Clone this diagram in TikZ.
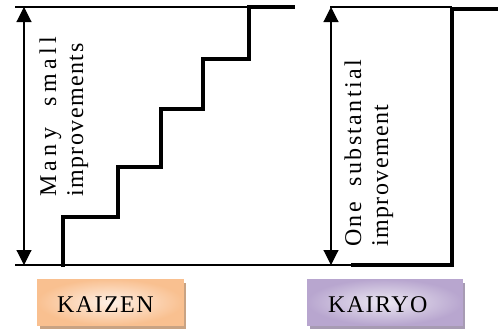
\documentclass[tikz,border=0pt]{standalone}
\usepackage{fontspec}
\setmainfont{Liberation Serif}
\newfontfamily\spacedfont[LetterSpace=6]{Liberation Serif}
\newfontfamily\widefont[LetterSpace=18]{Liberation Serif}
\newfontfamily\midfont[LetterSpace=10]{Liberation Serif}
\usetikzlibrary{arrows.meta}
\definecolor{kzdark}{HTML}{F9C090}
\definecolor{kzlight}{HTML}{FEF0E6}
\definecolor{kzshadow}{HTML}{C9A383}
\definecolor{kydark}{HTML}{B8A6CF}
\definecolor{kylight}{HTML}{ECE8F2}
\definecolor{kyshadow}{HTML}{A79BB3}
\tikzset{
  thinline/.style={line width=1.1pt, black},
  thickline/.style={line width=3.4pt, black, line cap=rect},
  dimarrow/.style={line width=1.1pt, {Triangle[width=15pt,length=15pt]}-{Triangle[width=15pt,length=15pt]}},
  vlabel/.style={rotate=90, anchor=base west, inner sep=0pt, font=\spacedfont\fontsize{24}{28}\selectfont},
  hlabel/.style={anchor=base west, inner sep=0pt, font=\spacedfont\fontsize{24}{28}\selectfont},
  tagbox/.style={draw, line width=0.8pt, minimum width=146pt, minimum height=46pt, inner sep=0pt},
}
\begin{document}
\begin{tikzpicture}[x=1pt,y=-1pt]
\useasboundingbox (0,0) rectangle (498,330);
% reference coordinates
\coordinate (tl1) at (15,7);
\coordinate (tl2) at (249,7);
\coordinate (bl1) at (15,265);
\coordinate (bl2) at (353,265);
\coordinate (tr1) at (330,7);
\coordinate (tr2) at (452,7);
\coordinate (aLt) at (24,7);
\coordinate (aLb) at (24,265);
\coordinate (aRt) at (331,7);
\coordinate (aRb) at (331,265);
% thin lines
\draw[thinline] (tl1) -- (tl2);
\draw[thinline] (bl1) -- (bl2);
\draw[thinline] (tr1) -- (tr2);
% dimension arrows
\draw[dimarrow] (aLt) -- (aLb);
\draw[dimarrow] (aRt) -- (aRb);
% kaizen staircase
\coordinate (s0) at (63,265);
\coordinate (s5) at (293,7);
\draw[thickline, line join=miter] (s0) -- (63,217) -- (118,217) -- (118,167) -- (161,167)
  -- (161,109) -- (203,109) -- (203,59) -- (249,59) -- (249,7) -- (s5);
% kairyo step
\coordinate (k0) at (353,265);
\coordinate (k1) at (498,9);
\draw[thickline, line join=miter] (k0) -- (452,265) -- (452,9) -- (k1);
% vertical labels
\node[vlabel] (many) at (56,197) {\widefont\fontsize{24}{28}\selectfont\makebox[160pt][s]{Many small}};
\node[vlabel] (impr1) at (83,197) {improvements};
\node[vlabel] (one) at (361,247) {\midfont\fontsize{24}{28}\selectfont\makebox[187pt][s]{One substantial}};
\node[vlabel] (impr2) at (388,247) {improvement};
% boxes
\fill[kzshadow] (40,283) rectangle (186,329);
\node[tagbox, draw=kzdark, outer color=kzdark, inner color=kzlight] (kzbox) at (110,302) {};
\node[hlabel] (kaizen) at (57,312) {KAIZEN};
\fill[kyshadow] (310,283) rectangle (465,329);
\node[tagbox, draw=kydark, minimum width=155pt, outer color=kydark, inner color=kylight] (kybox) at (384.5,302) {};
\node[hlabel] (kairyo) at (328,312) {KAIRYO};
\end{tikzpicture}
\end{document}
